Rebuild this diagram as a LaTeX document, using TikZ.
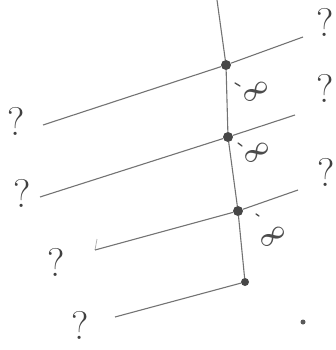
\documentclass[tikz,border=0pt]{standalone}
\begin{document}
\begin{tikzpicture}[x=1pt,y=-1pt,
  wire/.style={draw=black!55, line width=1.1pt},
  dotnode/.style={circle, fill=black!72, inner sep=0pt, minimum size=10pt},
  qmark/.style={text=black!75, font=\fontsize{40}{40}\selectfont, inner sep=0pt},
  inflabel/.style={text=black!70, font=\fontsize{24}{24}\selectfont\boldmath, inner sep=0pt, rotate=35},
  tickmark/.style={draw=black!70, line width=1.3pt, line cap=round}]
\useasboundingbox (0,0) rectangle (336,350);
% junction dots
\node[dotnode] (d1) at (226,65) {};
\node[dotnode] (d2) at (228,137) {};
\node[dotnode] (d3) at (238,211) {};
\node[dotnode, minimum size=8pt] (d4) at (245,282) {};
% line ends
\coordinate (top) at (217,0);
\coordinate (l1) at (43,125);  \coordinate (r1) at (303,37);
\coordinate (l2) at (40,197);  \coordinate (r2) at (295,115);
\coordinate (l3) at (95,250);  \coordinate (r3) at (298,190);
\coordinate (h3) at (97,239);
\coordinate (l4) at (115,317);
% vertical line
\draw[wire] (top) -- (d1) -- (d2) -- (d3) -- (d4);
% slanted lines
\draw[wire] (l1) -- (d1) -- (r1);
\draw[wire] (l2) -- (d2) -- (r2);
\draw[wire, black!30, line width=0.8pt] (h3) -- (l3);
\draw[wire] (l3) -- (d3) -- (r3);
\draw[wire] (l4) -- (d4);
% question marks
\node[qmark] (ql1) at (16,121) {?};
\node[qmark] (ql2) at (22,193) {?};
\node[qmark] (ql3) at (56,262) {?};
\node[qmark] (ql4) at (80,325) {?};
\node[qmark] (qr1) at (325,22) {?};
\node[qmark] (qr2) at (325,88) {?};
\node[qmark] (qr3) at (326,172) {?};
% infinity labels with ticks
\node[inflabel] (i1) at (256,92) {$\infty$};
\node[inflabel] (i2) at (257,153) {$\infty$};
\node[inflabel] (i3) at (273,237) {$\infty$};
\draw[tickmark] (235,83) -- (240,86);
\draw[tickmark] (238,143) -- (242,146);
\draw[tickmark] (256,214) -- (259,216);
% stray dot
\node[circle, fill=black!65, inner sep=0pt, minimum size=5pt] (sd) at (303,322) {};
\end{tikzpicture}
\end{document}
